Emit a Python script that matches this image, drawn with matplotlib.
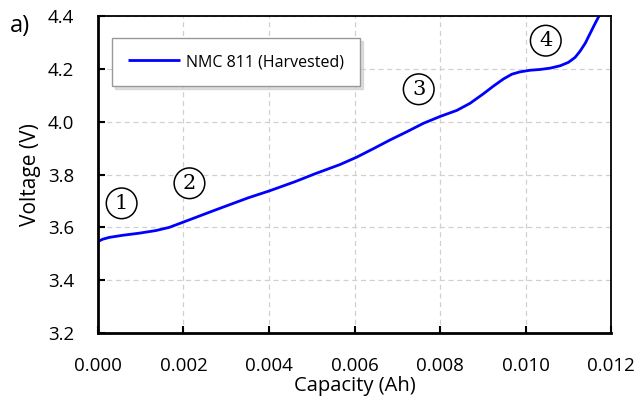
import matplotlib
matplotlib.use("Agg")
import matplotlib.pyplot as plt

# Charge curve of harvested NMC 811 cell
capacity_ah = [0.0, 0.00011, 0.000264, 0.000578, 0.000966, 0.001357, 0.001668,
               0.001981, 0.002292, 0.002683, 0.003048, 0.003516, 0.004023,
               0.004608, 0.005076, 0.005661, 0.006052, 0.00644, 0.00683,
               0.007221, 0.007609, 0.008, 0.008391, 0.008702, 0.009013,
               0.009247, 0.009481, 0.009677, 0.009871, 0.010105, 0.01034,
               0.010573, 0.010807, 0.011001, 0.011158, 0.011275, 0.011392,
               0.011509, 0.011626, 0.011727]
voltage_v = [3.546, 3.555, 3.562, 3.570, 3.578, 3.588, 3.600,
             3.619, 3.638, 3.662, 3.684, 3.712, 3.739,
             3.773, 3.803, 3.838, 3.866, 3.898, 3.931,
             3.962, 3.994, 4.020, 4.043, 4.070, 4.106,
             4.135, 4.162, 4.180, 4.189, 4.195, 4.198,
             4.203, 4.212, 4.225, 4.244, 4.268, 4.297,
             4.335, 4.373, 4.404]

series_label = "NMC 811 (Harvested)"
stage_labels = ["1", "2", "3", "4"]
stage_x = [0.000554, 0.00214, 0.00750, 0.01047]
stage_y = [3.691, 3.767, 4.123, 4.307]

x_ticks = [0.000, 0.002, 0.004, 0.006, 0.008, 0.010, 0.012]
y_ticks = [3.2, 3.4, 3.6, 3.8, 4.0, 4.2, 4.4]

plt.rcParams["font.family"] = ["Open Sans", "DejaVu Sans"]

fig = plt.figure(figsize=(6.4, 4.03), dpi=100)
ax = fig.add_axes([0.153, 0.1737, 0.802, 0.7863])

ax.plot(capacity_ah, voltage_v, color="#0000ff", lw=2.0, label=series_label,
        solid_joinstyle="round", solid_capstyle="butt")

ax.set_xlim(0, 0.012)
ax.set_ylim(3.2, 4.4)
ax.set_xticks(x_ticks)
ax.set_xticklabels([f"{v:.3f}" for v in x_ticks])
ax.set_yticks(y_ticks)
ax.set_yticklabels([f"{v:.1f}" for v in y_ticks])
ax.tick_params(axis="both", direction="in", length=5, width=1.5, labelsize=13.5,
               colors="black")
ax.tick_params(axis="x", pad=17)
ax.tick_params(axis="y", pad=17)
ax.grid(True, color="#d0d0d0", linestyle=(0, (4, 3)), lw=0.9)
ax.set_axisbelow(True)

for side in ("left", "bottom"):
    ax.spines[side].set_linewidth(2.0)
for side in ("top", "right"):
    ax.spines[side].set_linewidth(1.3)

ax.set_xlabel("Capacity (Ah)", fontsize=14.5, va="center")
ax.xaxis.set_label_coords(0.5, -0.167)
ax.set_ylabel("Voltage (V)", fontsize=15, labelpad=5)

for lab, sx, sy in zip(stage_labels, stage_x, stage_y):
    ax.text(sx, sy, lab, family="DejaVu Serif", fontsize=15, ha="center",
            va="center",
            bbox=dict(boxstyle="circle,pad=0.28", fc="white", ec="black", lw=1.1))

leg = ax.legend(loc="upper left", bbox_to_anchor=(0.0273, 0.9306), fontsize=11.5,
                fancybox=False, shadow={"color": "#c8c8c8", "alpha": 0.6},
                edgecolor="#999999", borderpad=1.0, borderaxespad=0,
                handlelength=3.25, handletextpad=0.4)
leg.get_frame().set_linewidth(1.0)

fig.text(0.016, 0.935, "a)", fontsize=17, ha="left", va="center")

fig.savefig("out.png", dpi=100)
